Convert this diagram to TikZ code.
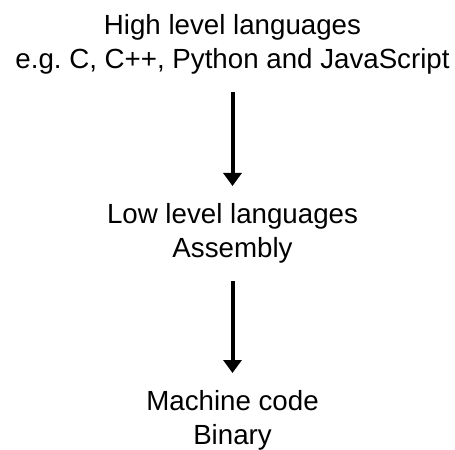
\documentclass[tikz,border=0pt]{standalone}
\usepackage{fontspec}
\setmainfont{Liberation Sans}
\usetikzlibrary{arrows.meta}
\frenchspacing
\begin{document}
\begin{tikzpicture}[x=1bp,y=-1bp,
  lbl/.style={align=center,inner sep=0pt,outer sep=0pt,anchor=north,
    font=\frenchspacing\fontsize{27.8}{34.5}\selectfont},
  arr/.style={line width=4bp,-{Triangle[width=18bp,length=13bp]},shorten <=18bp,shorten >=17bp}]
\useasboundingbox[fill=white] (0,0) rectangle (455,450);
\node[lbl] (high) at (232.5,14) {High level languages\\e.g. C, C++, Python and JavaScript};
\node[lbl] (low) at (232.5,203) {Low level languages\\Assembly};
\node[lbl] (mach) at (232.5,390) {Machine code\\Binary};
\draw[arr] (high.south) -- (low.north);
\draw[arr] (low.south) -- (mach.north);
\end{tikzpicture}
\end{document}
